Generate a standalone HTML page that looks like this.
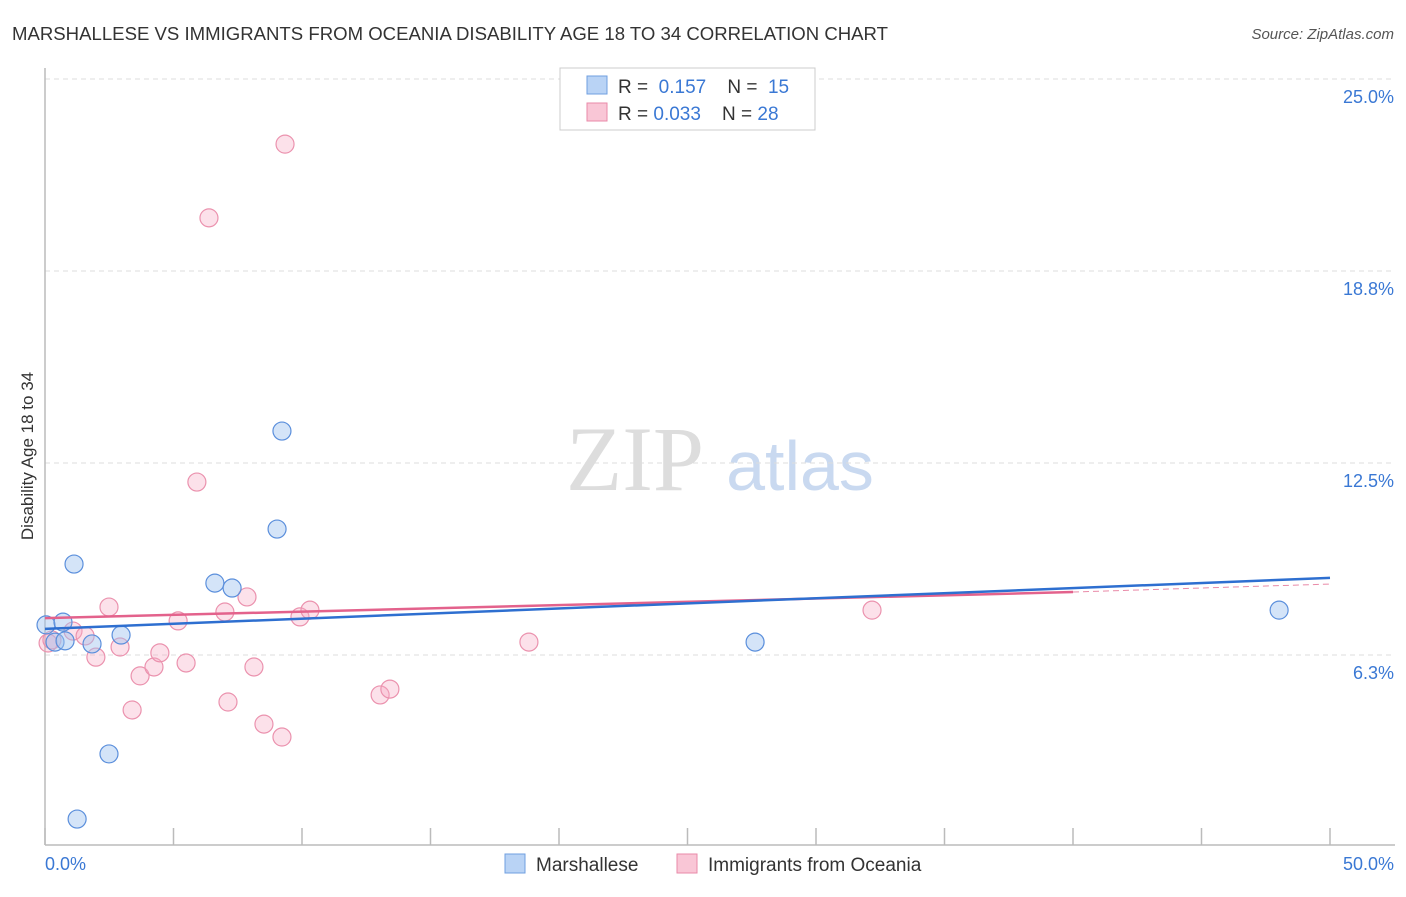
<!DOCTYPE html>
<html><head><meta charset="utf-8"><style>
body{margin:0;background:#fff;font-family:"Liberation Sans",sans-serif}
</style></head><body>
<svg width="1406" height="892" xmlns="http://www.w3.org/2000/svg" style="font-family:'Liberation Sans',sans-serif">
<text x="12" y="40" font-size="18" fill="#333" textLength="876" lengthAdjust="spacingAndGlyphs">MARSHALLESE VS IMMIGRANTS FROM OCEANIA DISABILITY AGE 18 TO 34 CORRELATION CHART</text>
<text x="1394" y="39" font-size="15" fill="#555" text-anchor="end" font-style="italic">Source: ZipAtlas.com</text>
<text x="635" y="490" font-size="92" fill="#ddd" text-anchor="middle" font-family="Liberation Serif,serif">ZIP</text>
<text x="800" y="490" font-size="70" fill="#c9d9f0" text-anchor="middle">atlas</text>
<g id="grid"></g>
<line x1="45" y1="68" x2="45" y2="845" stroke="#bbb" stroke-width="1.5"/>
<line x1="45" y1="845" x2="1395" y2="845" stroke="#bbb" stroke-width="1.5"/>
<g id="xticks"></g>
<text x="45" y="870" font-size="18" fill="#3a78d4">0.0%</text>
<text x="1394" y="870" font-size="18" fill="#3a78d4" text-anchor="end">50.0%</text>
<text transform="translate(33,456) rotate(-90)" font-size="17" fill="#333" text-anchor="middle">Disability Age 18 to 34</text>
<g id="points"></g>
<g id="lines"></g>
<g>
<rect x="560" y="68" width="255" height="62" fill="#fff" stroke="#ccc"/>
<rect x="587" y="76" width="20" height="18" fill="#b9d3f5" stroke="#6f9fe0"/>
<text x="618" y="93" font-size="19" fill="#333">R = <tspan fill="#3a78d4">&#160;0.157</tspan>&#160;&#160;&#160; N = <tspan fill="#3a78d4">&#160;15</tspan></text>
<rect x="587" y="103" width="20" height="18" fill="#f9c6d6" stroke="#e98aa8"/>
<text x="618" y="120" font-size="19" fill="#333">R = <tspan fill="#3a78d4">0.033</tspan>&#160;&#160;&#160; N = <tspan fill="#3a78d4">28</tspan></text>
</g>
<g>
<rect x="505" y="854" width="20" height="19" fill="#b9d3f5" stroke="#6f9fe0"/>
<text x="536" y="871" font-size="19" fill="#333">Marshallese</text>
<rect x="677" y="854" width="20" height="19" fill="#f9c6d6" stroke="#e98aa8"/>
<text x="708" y="871" font-size="19" fill="#333">Immigrants from Oceania</text>
</g>
</svg>
<script>
const yTicks=[25,18.75,12.5,6.25];
const yTickLabels=["25.0%","18.8%","12.5%","6.3%"];
const xTickVals=[0,5,10,15,20,25,30,35,40,45,50];
const blueX=[0.04,0.7,0.39,0.78,1.13,1.83,2.96,2.49,1.25,6.61,7.28,9.03,9.22,27.63,48.02];
const blueY=[7.23,7.32,6.67,6.71,9.21,6.61,6.9,3.03,0.91,8.59,8.43,10.35,13.54,6.67,7.71];
const pinkX=[0.12,0.27,1.09,1.56,2.49,1.98,2.92,3.7,3.39,4.24,4.47,5.18,5.49,5.91,6.38,7.0,7.12,7.86,8.13,8.52,9.22,9.34,9.92,10.31,13.04,13.42,18.83,32.18];
const pinkY=[6.64,6.74,7.03,6.87,7.81,6.18,6.51,5.57,4.46,5.86,6.32,7.36,5.99,11.88,20.48,7.65,4.72,8.14,5.86,4.0,3.58,22.88,7.49,7.71,4.95,5.14,6.67,7.71];
const blueTrend=[[0,7.1],[50,8.76]];
const pinkTrend=[[0,7.45],[40,8.3]];
const pinkTrendExt=[[40,8.3],[50,8.56]];
const NS="http://www.w3.org/2000/svg";
const X=v=>45+v*25.7, Y=v=>847-v*30.72;
function mk(t,a,p){const e=document.createElementNS(NS,t);for(const k in a)e.setAttribute(k,a[k]);document.getElementById(p).appendChild(e);return e;}
yTicks.forEach((v,i)=>{
 const l=mk('line',{x1:45,x2:1395,y1:Y(v),y2:Y(v),stroke:'#ddd','stroke-dasharray':'5,4'},'grid');
 
 
 const t=mk('text',{x:1394,y:Y(v)+24,'font-size':18,fill:'#3a78d4','text-anchor':'end'},'grid');
 t.textContent=yTickLabels[i];
 
 
});
xTickVals.forEach(v=>{
 const l=mk('line',{x1:X(v),x2:X(v),y1:828,y2:845,stroke:'#bbb','stroke-width':1.5},'xticks');
 
 
});
pinkX.forEach((x,i)=>{
 const c=mk('circle',{cx:X(x),cy:Y(pinkY[i]),r:9,fill:'rgba(246,170,195,0.35)',stroke:'#eb92ae','stroke-width':1.2},'points');
 
 
});
blueX.forEach((x,i)=>{
 const c=mk('circle',{cx:X(x),cy:Y(blueY[i]),r:9,fill:'rgba(160,195,240,0.45)',stroke:'#5b8fdc','stroke-width':1.2},'points');
 
 
});
function line(d,col,w,dash,name){
 const l=mk('line',{x1:X(d[0][0]),y1:Y(d[0][1]),x2:X(d[1][0]),y2:Y(d[1][1]),stroke:col,'stroke-width':w},'lines');
 if(dash)l.setAttribute('stroke-dasharray',dash);
 
 
}
line(pinkTrendExt,'#e98aa8',1,'6,4','oceania-trend-extension');
line(pinkTrend,'#e3628c',2.5,null,'oceania-trend-line');
line(blueTrend,'#2e6fd0',2.5,null,'marshallese-trend-line');
</script>
</body></html>
